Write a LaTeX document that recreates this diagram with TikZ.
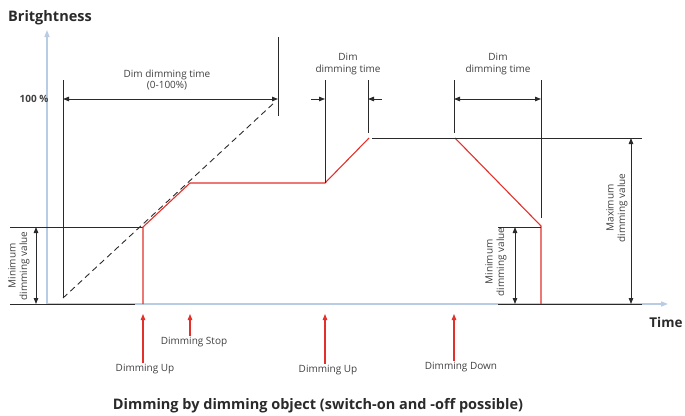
\documentclass[tikz,border=0pt]{standalone}
\usepackage{fontspec}
\setmainfont{Open Sans}
\usetikzlibrary{arrows.meta}
\definecolor{axisblue}{HTML}{B8CCE4}
\definecolor{sigred}{HTML}{E2302A}
\definecolor{txtgray}{HTML}{404040}
\definecolor{lngray}{HTML}{2A2A2A}
\tikzset{
  axisline/.style={draw=axisblue, line width=1.3pt, -{Triangle[length=7pt,width=5pt]}},
  ln/.style={draw=lngray, line width=0.9pt},
  dimarrow/.style={ln, {Triangle[length=6pt,width=4.5pt]}-{Triangle[length=6pt,width=4.5pt]}},
  onearrow/.style={ln, -{Triangle[length=6pt,width=4.5pt]}},
  redline/.style={draw=sigred, line width=1.1pt},
  redarrow/.style={draw=sigred, line width=1.1pt, -{Triangle[length=6pt,width=4.5pt]}},
  lbl/.style={font=\fontsize{10}{11.5}\selectfont, text=txtgray, align=center, inner sep=1pt},
  boldlbl/.style={font=\fontsize{14.5}{16}\selectfont\bfseries, text=lngray, inner sep=0pt},
}
\begin{document}
\begin{tikzpicture}[x=1pt,y=-1pt]
\useasboundingbox (0,0) rectangle (685,415);
% coordinates
\coordinate (yo) at (47,304);
\coordinate (ytop) at (47,30);
\coordinate (xend) at (668,304);
% axes
\draw[axisline] (yo) -- (ytop);
\draw[axisline] (yo) -- (xend);
\coordinate (bl0) at (10,304); \coordinate (bl1) at (135,304);
\draw[ln] (bl0) -- (bl1);
\coordinate (br0) at (498,304); \coordinate (br1) at (642,304);
\draw[ln] (br0) -- (br1);
\node[boldlbl, anchor=west] (bright) at (8,18) {Britghtness};
\node[boldlbl, font=\fontsize{13.5}{15}\selectfont\bfseries] (time) at (666,322) {Time};
\node[font=\fontsize{10}{11}\selectfont\bfseries, text=txtgray] (hundred) at (34,99) {100 \%};
% left part: dim dimming time (0-100%)
\coordinate (v1a) at (63,80); \coordinate (v1b) at (63,298);
\draw[ln] (v1a) -- (v1b);
\coordinate (v2a) at (278,37); \coordinate (v2b) at (278,116);
\draw[ln] (v2a) -- (v2b);
\coordinate (dashend) at (275,102);
\draw[ln, dash pattern=on 6pt off 4pt] (v1b) -- (dashend);
\coordinate (d1a) at (63,99); \coordinate (d1b) at (278,99);
\draw[dimarrow] (d1a) -- (d1b);
\node[lbl] (t1) at (167,80) {Dim dimming time\\(0-100\%)};
% min dimming left
\coordinate (m1a) at (10,227); \coordinate (m1b) at (143,227);
\draw[ln] (m1a) -- (m1b);
\coordinate (m1u) at (36,227); \coordinate (m1d) at (36,304);
\draw[dimarrow] (m1u) -- (m1d);
\node[lbl, rotate=90] (minl) at (19,266) {Minimum\\dimming value};
% red curve
\coordinate (r0) at (143,304);
\coordinate (r1) at (143,227);
\coordinate (r2) at (190,183);
\coordinate (r3) at (325,183);
\coordinate (r4) at (369,138);
\draw[redline] (r0) -- (r1) -- (r2) -- (r3) -- (r4);
\coordinate (s0) at (455,138);
\coordinate (s1) at (541,226);
\coordinate (s2) at (541,304);
\draw[redline] (s0) -- (s1) -- (s2);
% max line
\coordinate (mx0) at (372,138); \coordinate (mx1) at (642,138);
\draw[ln] (mx0) -- (mx1);
% middle dim time
\coordinate (v3a) at (325,80); \coordinate (v3b) at (325,183);
\draw[ln] (v3a) -- (v3b);
\coordinate (v4a) at (368,80); \coordinate (v4b) at (368,133);
\draw[ln] (v4a) -- (v4b);
\coordinate (a3s) at (311,99); \coordinate (a3e) at (325,99);
\draw[onearrow] (a3s) -- (a3e);
\coordinate (a4s) at (382,99); \coordinate (a4e) at (368,99);
\draw[onearrow] (a4s) -- (a4e);
\node[lbl] (t2) at (348,64) {Dim\\dimming time};
% right dim time
\coordinate (v5a) at (454,80); \coordinate (v5b) at (454,133);
\draw[ln] (v5a) -- (v5b);
\coordinate (v6a) at (541,80); \coordinate (v6b) at (541,218);
\draw[ln] (v6a) -- (v6b);
\coordinate (d5a) at (454,99); \coordinate (d5b) at (541,99);
\draw[dimarrow] (d5a) -- (d5b);
\node[lbl] (t3) at (498,64) {Dim\\dimming time};
% min dimming right
\coordinate (m2a) at (498,227); \coordinate (m2b) at (541,227);
\draw[ln] (m2a) -- (m2b);
\coordinate (m2u) at (515,227); \coordinate (m2d) at (515,304);
\draw[dimarrow] (m2u) -- (m2d);
\node[lbl, rotate=90] (minr) at (496,262) {Minimum\\dimming value};
% max dimming
\coordinate (mxu) at (631,138); \coordinate (mxd) at (631,304);
\draw[dimarrow] (mxu) -- (mxd);
\node[lbl, rotate=90] (maxl) at (617,208) {Maximum\\dimming value};
% events
\node[lbl] (e1) at (145,369) {Dimming Up};
\node[lbl] (e2) at (194,342) {Dimming Stop};
\node[lbl] (e3) at (328,370) {Dimming Up};
\node[lbl] (e4) at (461,367) {Dimming Down};
\coordinate (p1) at (143,314); \coordinate (p2) at (190,314);
\coordinate (p3) at (325,314); \coordinate (p4) at (454,314);
\draw[redarrow] (e1.north -| p1) -- (p1);
\draw[redarrow] (e2.north -| p2) -- (p2);
\draw[redarrow] (e3.north -| p3) -- (p3);
\draw[redarrow] (e4.north -| p4) -- (p4);
% caption
\node[font=\fontsize{14.5}{16}\selectfont\bfseries, text=lngray] (cap) at (318,406) {Dimming by dimming object (switch-on and -off possible)};
\end{tikzpicture}
\end{document}
